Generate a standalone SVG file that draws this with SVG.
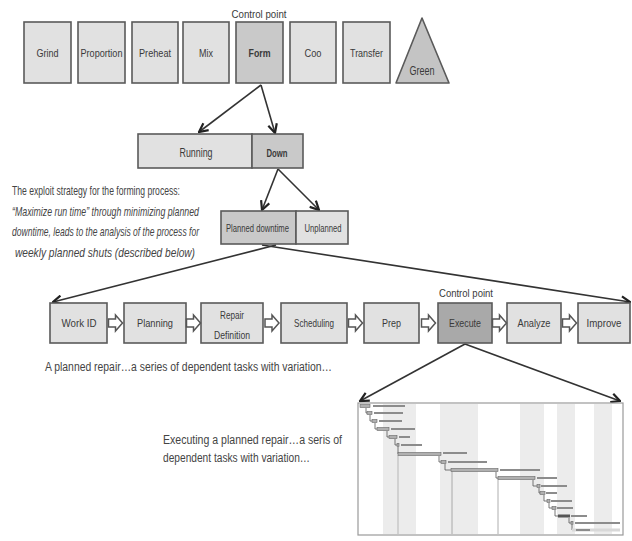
<svg xmlns="http://www.w3.org/2000/svg" xmlns:xlink="http://www.w3.org/1999/xlink" width="632" height="541" viewBox="0 0 632 541">
<defs>
<style>
.box{fill:#e1e1e1;stroke:#5a5a5a;stroke-width:1.6}
.dark{fill:#c9c9c9}
.darker{fill:#a9a9a9}
.lbl{font-family:"Liberation Sans Narrow","Liberation Sans",Arial,sans-serif;font-size:11.5px;fill:#3a3a3a;text-anchor:middle}
.b{font-weight:bold}
.txt{font-family:"Liberation Sans Narrow","Liberation Sans",Arial,sans-serif;font-size:13px;fill:#444}
.it{font-style:italic}
.con{stroke:#333;stroke-width:1.6;fill:none;marker-end:url(#ah)}
.blk{fill:#fff;stroke:#555;stroke-width:1.5}
.band{fill:#ececec}
.glbl{fill:#8c8c8c}
.gbar{fill:#b0b0b0;stroke:#666;stroke-width:0.6}
.glink{stroke:#555;stroke-width:0.8;fill:none}
</style>
<marker id="ah" viewBox="0 0 10 10" refX="9" refY="5" markerWidth="11" markerHeight="11" markerUnits="userSpaceOnUse" orient="auto">
<path d="M1,1 L9,5 L1,9" fill="none" stroke="#222" stroke-width="2"/>
</marker>
<path id="blkp" d="M0,-4 H7 V-8 L14,0 L7,8 V4 H0 Z"/>
</defs>
<rect width="632" height="541" fill="#fff"/>

<g id="connectors">
<line class="con" x1="261" y1="85" x2="199" y2="132"/>
<line class="con" x1="261" y1="85" x2="275" y2="133"/>
<line class="con" x1="278" y1="169" x2="262" y2="210"/>
<line class="con" x1="278" y1="169" x2="319" y2="210"/>
<line class="con" x1="276" y1="245" x2="53" y2="302"/>
<line class="con" x1="262" y1="245" x2="630" y2="302"/>
<line class="con" x1="465" y1="344" x2="360" y2="401"/>
<line class="con" x1="465" y1="344" x2="620" y2="401"/>
</g>

<g id="cp1"><text class="lbl" x="259" y="18" textLength="55" lengthAdjust="spacingAndGlyphs">Control point</text></g>
<g id="grind"><rect class="box" x="24" y="22" width="47" height="61"/><text class="lbl" x="47.5" y="57" textLength="22" lengthAdjust="spacingAndGlyphs">Grind</text></g>
<g id="proportion"><rect class="box" x="78" y="22" width="47" height="61"/><text class="lbl" x="101.5" y="57" style="font-size:10px" textLength="42" lengthAdjust="spacingAndGlyphs">Proportion</text></g>
<g id="preheat"><rect class="box" x="132" y="22" width="46" height="61"/><text class="lbl" x="155" y="57" textLength="32" lengthAdjust="spacingAndGlyphs">Preheat</text></g>
<g id="mix"><rect class="box" x="183" y="22" width="46" height="61"/><text class="lbl" x="206" y="57" textLength="14" lengthAdjust="spacingAndGlyphs">Mix</text></g>
<g id="form"><rect class="box dark" x="236" y="22" width="47" height="61"/><text class="lbl b" x="259.5" y="57" textLength="22" lengthAdjust="spacingAndGlyphs">Form</text></g>
<g id="cool"><rect class="box" x="290" y="22" width="46" height="61"/><text class="lbl" x="313" y="57" textLength="17" lengthAdjust="spacingAndGlyphs">Coo</text></g>
<g id="transfer"><rect class="box" x="343" y="22" width="47" height="61"/><text class="lbl" x="366.5" y="57" textLength="33" lengthAdjust="spacingAndGlyphs">Transfer</text></g>
<g id="green"><path d="M422,18 L449,83 L396,83 Z" fill="#c4c4c4" stroke="#5a5a5a" stroke-width="1.6" stroke-linejoin="round"/><text class="lbl" x="422" y="75" style="font-size:12.5px" textLength="25" lengthAdjust="spacingAndGlyphs">Green</text></g>

<g id="running"><rect class="box" x="138" y="134" width="114" height="34"/><text class="lbl" x="196" y="157" style="font-size:13px" textLength="33" lengthAdjust="spacingAndGlyphs">Running</text></g>
<g id="down"><rect class="box dark" x="252" y="134" width="51" height="34"/><text class="lbl b" x="277" y="157" textLength="21" lengthAdjust="spacingAndGlyphs">Down</text></g>

<g id="planned"><rect class="box dark" x="221" y="211" width="75" height="33"/><text class="lbl" transform="translate(257.5,232) scale(1,1.3)" x="0" y="0" style="font-size:8.5px" textLength="63" lengthAdjust="spacingAndGlyphs">Planned downtime</text></g>
<g id="unplanned"><rect class="box" x="296" y="211" width="52" height="33"/><text class="lbl" transform="translate(323,232) scale(1,1.25)" x="0" y="0" style="font-size:9px" textLength="37" lengthAdjust="spacingAndGlyphs">Unplanned</text></g>

<g id="strategy-text">
<text class="txt" transform="translate(12,195) scale(1,1.5)" x="0" y="0" style="font-size:8.6px" textLength="168" lengthAdjust="spacingAndGlyphs">The exploit strategy for the forming process:</text>
<text class="txt it" transform="translate(12,216) scale(1,1.5)" x="0" y="0" style="font-size:8.6px" textLength="187" lengthAdjust="spacingAndGlyphs">“Maximize run time” through minimizing planned</text>
<text class="txt it" transform="translate(12,236) scale(1,1.5)" x="0" y="0" style="font-size:8.6px" textLength="187" lengthAdjust="spacingAndGlyphs">downtime, leads to the analysis of the process for</text>
<text class="txt it" transform="translate(15,257) scale(1,1.5)" x="0" y="0" style="font-size:8.6px" textLength="180" lengthAdjust="spacingAndGlyphs">weekly planned shuts (described below)</text>
</g>

<g id="cp2"><text class="lbl" x="466" y="297" textLength="54" lengthAdjust="spacingAndGlyphs">Control point</text></g>
<g id="workid"><rect class="box" x="50" y="303" width="57" height="40"/><text class="lbl" x="79" y="327" textLength="35" lengthAdjust="spacingAndGlyphs">Work ID</text></g>
<g id="planning"><rect class="box" x="124" y="303" width="62" height="40"/><text class="lbl" x="155" y="327" textLength="36" lengthAdjust="spacingAndGlyphs">Planning</text></g>
<g id="repair"><rect class="box" x="201" y="303" width="62" height="40"/><text class="lbl" x="232" y="319" textLength="24" lengthAdjust="spacingAndGlyphs">Repair</text><text class="lbl" x="232" y="339" textLength="36" lengthAdjust="spacingAndGlyphs">Definition</text></g>
<g id="scheduling"><rect class="box" x="281" y="303" width="66" height="40"/><text class="lbl" x="314" y="327" textLength="40" lengthAdjust="spacingAndGlyphs">Scheduling</text></g>
<g id="prep"><rect class="box" x="364" y="303" width="55" height="40"/><text class="lbl" x="391.5" y="327" textLength="19" lengthAdjust="spacingAndGlyphs">Prep</text></g>
<g id="execute"><rect class="box darker" x="438" y="303" width="54" height="40"/><text class="lbl" x="465" y="327" textLength="32" lengthAdjust="spacingAndGlyphs">Execute</text></g>
<g id="analyze"><rect class="box" x="507" y="303" width="54" height="40"/><text class="lbl" x="534" y="327" textLength="33" lengthAdjust="spacingAndGlyphs">Analyze</text></g>
<g id="improve"><rect class="box" x="578" y="303" width="52" height="40"/><text class="lbl" x="604" y="327" textLength="35" lengthAdjust="spacingAndGlyphs">Improve</text></g>

<g id="flow-arrows">
<use href="#blkp" xlink:href="#blkp" class="blk" x="108.5" y="323"/>
<use href="#blkp" xlink:href="#blkp" class="blk" x="186.5" y="323"/>
<use href="#blkp" xlink:href="#blkp" class="blk" x="265" y="323"/>
<use href="#blkp" xlink:href="#blkp" class="blk" x="348.5" y="323"/>
<use href="#blkp" xlink:href="#blkp" class="blk" x="421.5" y="323"/>
<use href="#blkp" xlink:href="#blkp" class="blk" x="492.5" y="323"/>
<use href="#blkp" xlink:href="#blkp" class="blk" x="562.5" y="323"/>
</g>

<g id="planned-repair-text"><text class="txt" x="45" y="371" style="font-size:12px" textLength="287" lengthAdjust="spacingAndGlyphs">A planned repair…a series of dependent tasks with variation…</text></g>

<g id="executing-text">
<text class="txt" x="163" y="444" style="font-family:'Liberation Sans',Arial,sans-serif;font-size:12px" textLength="179" lengthAdjust="spacingAndGlyphs">Executing a planned repair…a seris of</text>
<text class="txt" x="163" y="462" style="font-family:'Liberation Sans',Arial,sans-serif;font-size:12px" textLength="147" lengthAdjust="spacingAndGlyphs">dependent tasks with variation…</text>
</g>

<g id="gantt">
<rect x="358" y="403" width="265" height="132" fill="#fff"/>
<rect class="band" x="383" y="404" width="33" height="130"/>
<rect class="band" x="440" y="404" width="38" height="130"/>
<rect class="band" x="520" y="404" width="24" height="130"/>
<rect class="band" x="557" y="404" width="18" height="130"/>
<rect class="band" x="594" y="404" width="18" height="130"/>
<line x1="398" y1="455" x2="398" y2="534" stroke="#aaa" stroke-width="0.8"/>
<line x1="452" y1="470" x2="452" y2="534" stroke="#999" stroke-width="0.8"/>
<line x1="498" y1="478" x2="498" y2="534" stroke="#999" stroke-width="0.8"/>
<rect x="358" y="403" width="265" height="132" fill="none" stroke="#9a9a9a" stroke-width="1.2"/>
<path class="glink" d="M366,408 V413 H367 M370,415 V421 H372 M375,423 V429 H377 M387,431 V437 H389 M395,439 V445 H397 M398,447 V454 H398 M439,456 V462 H441 M445,464 V470 H451 M496,472 V478 H498 M533,480 V486 H537 M539,488 V493 H540 M544,495 V501 H547 M549,503 V508 H552 M555,510 V516 H558 M569,518 V523 H571 M572,525 V530 H572"/>
<g>
<rect class="gbar" x="360" y="404.5" width="10" height="3"/>
<rect class="gbar" x="367" y="411.5" width="5" height="3"/>
<rect class="gbar" x="372" y="419.5" width="5" height="3"/>
<rect class="gbar" x="377" y="427.5" width="12" height="3"/>
<rect class="gbar" x="389" y="435.5" width="8" height="3"/>
<rect class="gbar" x="397" y="443.5" width="2" height="3"/>
<rect class="gbar" x="398" y="452.5" width="43" height="3"/>
<rect class="gbar" x="441" y="460.5" width="5" height="3"/>
<rect class="gbar" x="451" y="468.5" width="47" height="3"/>
<rect class="gbar" x="498" y="476.5" width="37" height="3"/>
<rect class="gbar" x="537" y="484.5" width="3" height="3"/>
<rect class="gbar" x="540" y="491.5" width="5" height="3"/>
<rect class="gbar" x="547" y="499.5" width="3" height="3"/>
<rect class="gbar" x="552" y="506.5" width="4" height="3"/>
<rect x="558" y="514.5" width="12" height="3" fill="#555"/>
<rect class="gbar" x="571" y="521.5" width="2" height="3"/>
<rect x="572" y="528.5" width="48" height="3" fill="#d8d8d8"/>
</g>
<g>
<rect class="glbl" x="373" y="405" width="32" height="2"/>
<rect class="glbl" x="374" y="412" width="29" height="2"/>
<rect class="glbl" x="379" y="420" width="23" height="2"/>
<rect class="glbl" x="391" y="428" width="24" height="2"/>
<rect class="glbl" x="399" y="436" width="11" height="2"/>
<rect class="glbl" x="401" y="444" width="21" height="2"/>
<rect class="glbl" x="443" y="452" width="24" height="2"/>
<rect class="glbl" x="448" y="461" width="39" height="2"/>
<rect class="glbl" x="500" y="469" width="40" height="2"/>
<rect class="glbl" x="537" y="477" width="20" height="2"/>
<rect class="glbl" x="541" y="485" width="26" height="2"/>
<rect class="glbl" x="546" y="492" width="11" height="2"/>
<rect class="glbl" x="551" y="500" width="21" height="2"/>
<rect class="glbl" x="557" y="507" width="16" height="2"/>
<rect class="glbl" x="571" y="515" width="16" height="2"/>
<rect class="glbl" x="575" y="522" width="45" height="2"/>
<rect class="glbl" x="576" y="529" width="14" height="2"/>
</g>
</g>
</svg>
